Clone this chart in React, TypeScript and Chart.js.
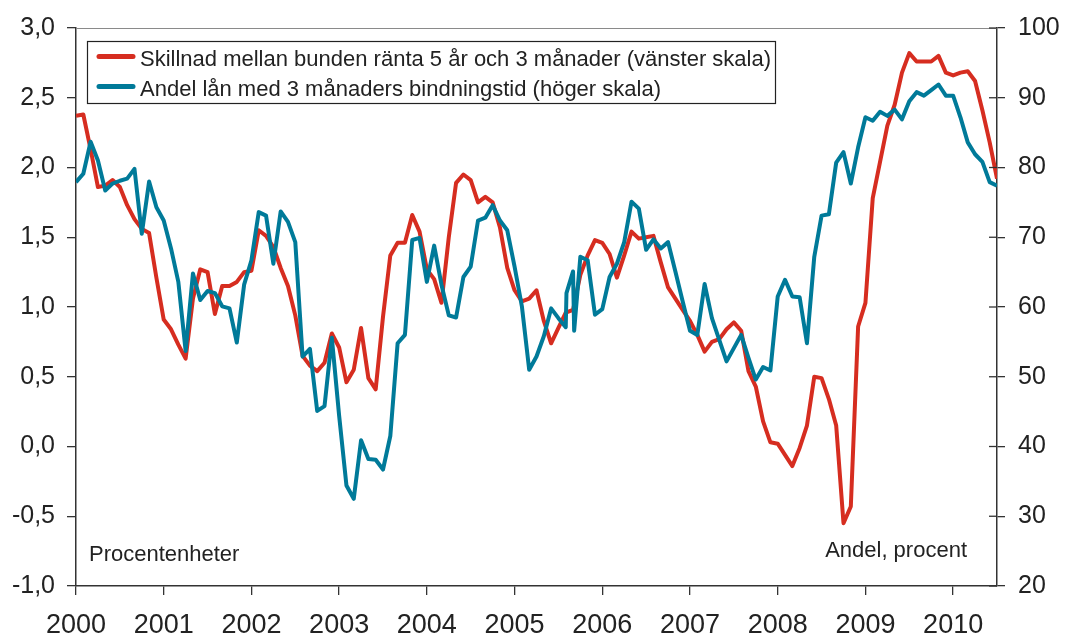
import React, { useEffect, useRef } from 'react';
import { Chart, registerables } from 'chart.js';

Chart.register(...registerables);

const FONT = '"Liberation Sans", Arial, Helvetica, sans-serif';
const TEXT = '#222222';
const AXIS = '#333333';
const RED = '#d62d20';
const BLUE = '#007a99';

const yearLabels = ['2000', '2001', '2002', '2003', '2004', '2005', '2006', '2007', '2008', '2009', '2010'];

const spreadLabel = 'Skillnad mellan bunden ränta 5 år och 3 månader (vänster skala)';
const shareLabel = 'Andel lån med 3 månaders bindningstid (höger skala)';
const leftUnitLabel = 'Procentenheter';
const rightUnitLabel = 'Andel, procent';

// Monthly values, Jan 2000 .. Jul 2010 (left scale, percentage points)
const spreadValues = [
  2.37, 2.38, 2.13, 1.86, 1.87, 1.91, 1.86, 1.73, 1.63, 1.56, 1.53, 1.21,
  0.91, 0.84, 0.73, 0.63, 1.06, 1.27, 1.25, 0.95, 1.15, 1.15, 1.18, 1.25,
  1.26, 1.55, 1.51, 1.43, 1.28, 1.15, 0.94, 0.65, 0.58, 0.54, 0.60, 0.81,
  0.71, 0.46, 0.55, 0.85, 0.49, 0.41, 0.93, 1.37, 1.46, 1.46, 1.66, 1.54,
  1.27, 1.20, 1.03, 1.50, 1.89, 1.95, 1.91, 1.75, 1.79, 1.75, 1.57, 1.28,
  1.12, 1.04, 1.06, 1.12, 0.90, 0.74, 0.85, 0.96, 0.98, 1.23, 1.37, 1.48,
  1.46, 1.38, 1.21, 1.37, 1.54, 1.49, 1.50, 1.51, 1.32, 1.14, 1.06, 0.98,
  0.90, 0.80, 0.68, 0.75, 0.77, 0.84, 0.89, 0.83, 0.54, 0.43, 0.18, 0.03,
  0.02, -0.06, -0.14, -0.01, 0.15, 0.50, 0.49, 0.34, 0.15, -0.55, -0.43, 0.86,
  1.03, 1.78, 2.04, 2.30, 2.45, 2.68, 2.82, 2.76, 2.76, 2.76, 2.80, 2.68,
  2.66, 2.68, 2.69, 2.62, 2.41, 2.18, 1.92,
];

// Monthly values, Jan 2000 .. Jul 2010 (right scale, percent)
const shareValues = [
  77.9, 79.1, 83.7, 81.0, 76.7, 77.7, 78.1, 78.4, 79.8, 70.5, 78.0, 74.3,
  72.4, 68.4, 63.6, 53.7, 64.8, 61.0, 62.3, 62.0, 60.1, 59.8, 54.9, 63.2,
  66.7, 73.6, 73.1, 66.2, 73.7, 72.2, 69.3, 52.9, 54.0, 45.1, 45.8, 55.6,
  44.4, 34.4, 32.5, 40.9, 38.2, 38.1, 36.7, 41.5, 54.8, 56.0, 69.6, 69.9,
  63.6, 68.8, 63.2, 58.8, 58.5, 64.3, 65.8, 72.4, 72.8, 74.6, 72.4, 71.0,
  65.8, 60.1, 51.0, 52.9, 55.8, 59.8, 58.4, 57.1, 65.1, 67.2, 66.7, 58.9,
  59.7, 64.3, 66.2, 69.3, 75.1, 74.1, 68.2, 69.7, 68.4, 69.3, 65.1, 60.8,
  56.6, 56.0, 63.3, 58.4, 55.3, 52.2, 54.1, 56.0, 52.7, 49.6, 51.4, 50.9,
  61.5, 63.9, 61.5, 61.4, 54.8, 67.2, 73.1, 73.3, 80.7, 82.2, 77.7, 82.9,
  87.2, 86.7, 88.0, 87.4, 88.3, 86.9, 89.5, 90.8, 90.3, 91.1, 91.9, 90.3,
  90.3, 87.2, 83.6, 81.9, 80.8, 77.9, 77.4,
];

// Extra intra-month observations in 2005
const shareExtraMonths = [67.1, 68.15];
const shareExtraValues = [62.0, 56.6];

const leftMin = -1;
const leftMax = 3;
const leftStep = 0.5;
const rightMin = 20;
const rightMax = 100;
const rightStep = 10;
const lastMonth = 126;

const decorPlugin = {
  id: 'decor',
  afterDraw(chart: any) {
    const { ctx, chartArea, scales } = chart;
    ctx.save();
    // top frame line
    ctx.strokeStyle = '#8a8a8a';
    ctx.lineWidth = 1.2;
    ctx.beginPath();
    ctx.moveTo(chartArea.left, chartArea.top + 0.5);
    ctx.lineTo(chartArea.right, chartArea.top + 0.5);
    ctx.stroke();

    // inner tick marks of right axis
    const y1 = scales.y1;
    ctx.strokeStyle = AXIS;
    ctx.lineWidth = 1.3;
    y1.ticks.forEach((t: any) => {
      const py = y1.getPixelForValue(t.value);
      ctx.beginPath();
      ctx.moveTo(chartArea.right - 8, py);
      ctx.lineTo(chartArea.right, py);
      ctx.stroke();
    });

    // legend box
    const bx = chartArea.left + 11;
    const by = chartArea.top + 13;
    ctx.strokeStyle = '#222222';
    ctx.lineWidth = 1.2;
    ctx.strokeRect(bx + 0.5, by + 0.5, 688, 62);
    ctx.font = `22px ${FONT}`;
    ctx.textBaseline = 'alphabetic';
    ctx.textAlign = 'left';
    chart.data.datasets.forEach((ds: any, i: number) => {
      const ly = by + 15.5 + i * 30;
      ctx.strokeStyle = ds.borderColor;
      ctx.lineWidth = 5;
      ctx.lineCap = 'round';
      ctx.beginPath();
      ctx.moveTo(bx + 12, ly);
      ctx.lineTo(bx + 46, ly);
      ctx.stroke();
      ctx.fillStyle = TEXT;
      ctx.fillText(ds.label, bx + 53, ly + 9);
    });

    // unit labels
    ctx.fillStyle = TEXT;
    ctx.font = `22px ${FONT}`;
    ctx.textAlign = 'left';
    ctx.fillText(leftUnitLabel, chartArea.left + 13, chartArea.bottom - 25);
    ctx.textAlign = 'right';
    ctx.fillText(rightUnitLabel, chartArea.right - 30, chartArea.bottom - 29);
    ctx.restore();
  },
};

export default function App() {
  const canvasRef = useRef<HTMLCanvasElement | null>(null);

  useEffect(() => {
    document.body.style.margin = '0';
    const canvas = canvasRef.current;
    if (!canvas) return;

    const spreadData = spreadValues.map((v, i) => ({ x: i, y: v }));
    const shareData = shareValues
      .map((v, i) => ({ x: i, y: v }))
      .concat(shareExtraMonths.map((m, i) => ({ x: m, y: shareExtraValues[i] })))
      .sort((a, b) => a.x - b.x);

    const tickFont = (size: number) => ({ family: FONT, size });

    const chart = new Chart(canvas, {
      type: 'line',
      data: {
        datasets: [
          {
            label: spreadLabel,
            data: spreadData,
            borderColor: RED,
            backgroundColor: RED,
            borderWidth: 4,
            yAxisID: 'y',
            order: 2,
          },
          {
            label: shareLabel,
            data: shareData,
            borderColor: BLUE,
            backgroundColor: BLUE,
            borderWidth: 4,
            yAxisID: 'y1',
            order: 1,
          },
        ],
      },
      options: {
        responsive: false,
        animation: false,
        devicePixelRatio: 1,
        layout: { padding: { top: 25, left: 0, right: 0, bottom: 0 } },
        plugins: { legend: { display: false }, tooltip: { enabled: false } },
        elements: {
          point: { radius: 0 },
          line: { tension: 0, borderJoinStyle: 'round', borderCapStyle: 'butt' },
        },
        scales: {
          x: {
            type: 'linear',
            position: 'bottom',
            min: 0,
            max: lastMonth,
            afterBuildTicks: (s: any) => {
              s.ticks = yearLabels.map((_, i) => ({ value: i * 12 }));
            },
            afterFit: (s: any) => {
              s.height = 51;
            },
            ticks: {
              autoSkip: false,
              maxRotation: 0,
              padding: 14,
              color: TEXT,
              font: tickFont(27),
              callback: (v: any) => yearLabels[Math.round(Number(v) / 12)] ?? '',
            },
            grid: { drawOnChartArea: false, tickLength: 9, color: AXIS, lineWidth: 1.3 },
            border: { display: true, color: AXIS, width: 1.5 },
          },
          y: {
            type: 'linear',
            position: 'left',
            min: leftMin,
            max: leftMax,
            afterFit: (s: any) => {
              s.width = 76;
            },
            ticks: {
              stepSize: leftStep,
              autoSkip: false,
              padding: 12,
              color: TEXT,
              font: tickFont(25),
              callback: (v: any) => Number(v).toFixed(1).replace('.', ','),
            },
            grid: { drawOnChartArea: false, tickLength: 9, color: AXIS, lineWidth: 1.3 },
            border: { display: true, color: AXIS, width: 1.5 },
          },
          y1: {
            type: 'linear',
            position: 'right',
            min: rightMin,
            max: rightMax,
            afterFit: (s: any) => {
              s.width = 68;
            },
            ticks: {
              stepSize: rightStep,
              autoSkip: false,
              padding: 13,
              color: TEXT,
              font: tickFont(25),
              callback: (v: any) => String(Math.round(Number(v))),
            },
            grid: { drawOnChartArea: false, tickLength: 8, color: AXIS, lineWidth: 1.3 },
            border: { display: true, color: AXIS, width: 1.5 },
          },
        },
      },
      plugins: [decorPlugin],
    } as any);

    return () => {
      chart.destroy();
    };
  }, []);

  return (
    <div style={{ position: 'absolute', left: 0, top: 0, width: 1065, height: 637, background: '#ffffff' }}>
      <canvas ref={canvasRef} width={1065} height={637} />
    </div>
  );
}
